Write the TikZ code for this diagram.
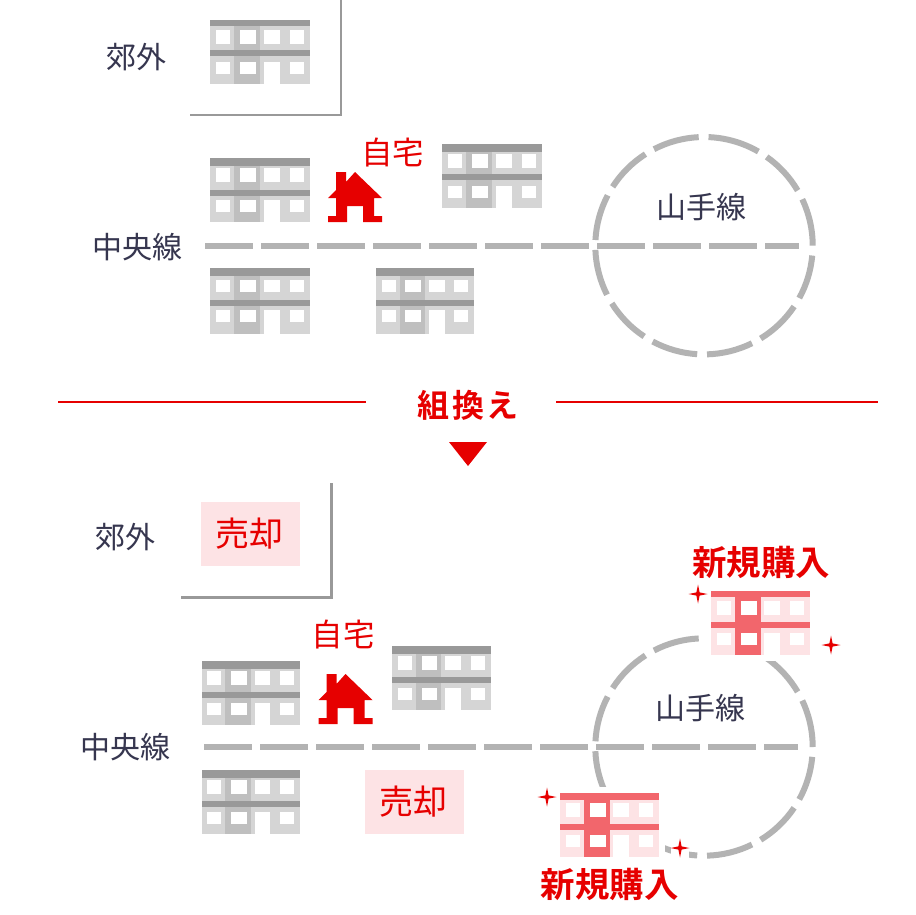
\documentclass[tikz,border=0pt]{standalone}
\usepackage{fontspec}
\setmainfont{Noto Sans CJK JP}
\newfontfamily\jpbold{Noto Sans CJK JP Bold}
\definecolor{ink}{HTML}{36364F}
\definecolor{redc}{HTML}{E60000}
\definecolor{track}{HTML}{B3B3B3}
\definecolor{wall}{HTML}{D5D5D5}
\definecolor{wallD}{HTML}{BFBFBF}
\definecolor{band}{HTML}{999999}
\definecolor{pinkL}{HTML}{FDE3E5}
\definecolor{pinkD}{HTML}{F2666C}
\tikzset{
  lab/.style={text=ink,inner sep=0pt,font=\fontsize{30}{30}\selectfont},
  redlab/.style={text=redc,inner sep=0pt,font=\fontsize{31.5}{32}\selectfont},
  buylab/.style={text=redc,inner sep=0pt,font=\jpbold\fontsize{34.5}{35}\selectfont},
  sellbox/.style={fill=pinkL,text=redc,inner sep=0pt,minimum width=99pt,minimum height=64pt,font=\fontsize{34}{34}\selectfont},
  trackline/.style={draw=track,line width=6pt,dash pattern=on 48pt off 8pt},
  ringarc/.style={draw=track,line width=6pt},
  wall line/.style={draw=band,line width=2.6pt,line join=miter},
  ruleline/.style={draw=redc,line width=1.6pt}
}
% \bldg{x}{y}{xscale}{band h}{window top}{mid band y}{total h}{light}{dark}{band}
\newcommand{\bldg}[9]{%
 \begin{scope}[shift={(#1,#2)},xscale=#3]
  \fill[#8] (0,0) rectangle (100,#7);
  \fill[#9] (24,0) rectangle (50,#7);
  \fill[white] (6,#5) rectangle (20,24);
  \fill[white] (30,#5) rectangle (46,24);
  \fill[white] (54,#5) rectangle (70,24);
  \fill[white] (80,#5) rectangle (94,24);
  \fill[white] (6,42) rectangle (20,54);
  \fill[white] (30,42) rectangle (46,54);
  \fill[white] (54,42) rectangle (70,#7);
  \fill[white] (80,42) rectangle (94,54);
  \fill[\bldgband] (0,0) rectangle (100,#4);
  \fill[\bldgband] (0,#6) rectangle (100,#6+6);
 \end{scope}}
\newcommand{\bldgband}{band}
\newcommand{\house}[2]{%
 \fill[redc,shift={(#1,#2)}] (8,0) -- (18,0) -- (18,10) -- (27,0) -- (54,26) -- (46,26) -- (46,44) -- (54,44) -- (54,50) -- (35,50) -- (35,34) -- (19,34) -- (19,50) -- (0,50) -- (0,44) -- (8,44) -- (8,26) -- (0,26) -- (8,18) -- cycle;}
\newcommand{\spark}[2]{%
 \fill[redc,shift={(#1,#2)}] (0,-9.5) -- (1.6,-1.6) -- (9.5,0) -- (1.6,1.6) -- (0,9.5) -- (-1.6,1.6) -- (-9.5,0) -- (-1.6,-1.6) -- cycle;}
\newcommand{\ring}[3]{%
 \foreach \s/\e in {0/25.3,30.5/54.8,60/87.6,92.8/117.4,122.6/147.2,152.4/177,182.2/206.8,212/236.6,241.8/266.4,271.6/296.2,301.4/326,331.2/354.8}
  \draw[ringarc] ({#1+#3*cos(-\s)},{#2+#3*sin(-\s)}) arc[start angle={-\s},end angle={-\e},radius=#3];}
\begin{document}
\begin{tikzpicture}[x=1pt,y=1pt,yscale=-1]
\useasboundingbox (0,0) rectangle (916,914);
\fill[white] (0,0) rectangle (916,914);
% upper half
\draw[wall line] (341,0) -- (341,115) -- (190,115);
\node[lab] (suburbA) at (136.5,57) {郊外};
\bldg{210}{20}{1}{6}{10}{30}{64}{wall}{wallD}{band}
\bldg{210}{158}{1}{8}{10}{32}{64}{wall}{wallD}{band}
\bldg{442}{144}{1}{8}{10}{30}{64}{wall}{wallD}{band}
\bldg{210}{268}{1}{8}{12}{32}{66}{wall}{wallD}{band}
\bldg{376}{268}{.98}{8}{12}{32}{66}{wall}{wallD}{band}
\house{328}{172}
\node[redlab] (homeA) at (392.5,153) {自宅};
\node[lab] (chuoA) at (137,247) {中央線};
\node[lab] (yamaA) at (701,207) {山手線};
\draw[trackline] (205,246) -- (799,246);
\ring{704}{245.7}{108.7}
% divider
\draw[ruleline] (58,402) -- (366,402);
\draw[ruleline] (556,402) -- (878,402);
\node[buylab,font=\jpbold\fontsize{32}{32}\selectfont] (swap) at (468,405) {組\kern2.5pt 換\kern2.5pt え};
\fill[redc] (449,442) -- (487,442) -- (468,466) -- cycle;
% lower half
\draw[wall line] (331.5,483) -- (331.5,597.5) -- (181,597.5);
\node[lab] (suburbB) at (125.5,537) {郊外};
\node[sellbox] (sellA) at (250.5,534) {\raisebox{-2pt}{売却}\kern2pt};
\node[sellbox] (sellB) at (414.5,802) {\raisebox{-2pt}{売却}\kern2pt};
\bldg{201.5}{661}{.985}{7.5}{10}{31}{64}{wall}{wallD}{band}
\bldg{392}{646}{.985}{7.5}{10}{31}{64}{wall}{wallD}{band}
\bldg{201.5}{770}{.985}{7.5}{10}{31}{64}{wall}{wallD}{band}
\house{318.5}{674}
\node[redlab] (homeB) at (343,635) {自宅};
\node[lab] (chuoB) at (125,747) {中央線};
\node[lab] (yamaB) at (700,708) {山手線};
\draw[trackline] (204,747) -- (798,747);
\ring{704}{747}{108.7}
\fill[white] (705,584) rectangle (816,661);
\fill[white] (554,787) rectangle (665,863);
\fill[white] (671,838) rectangle (689,858);
\renewcommand{\bldgband}{pinkD}
\bldg{711}{590.5}{.99}{6.5}{10}{31}{64.5}{pinkL}{pinkD}{pinkD}
\bldg{560}{793}{.99}{6.5}{10}{31}{64}{pinkL}{pinkD}{pinkD}
\spark{698}{594}
\spark{831}{645}
\spark{547}{797}
\spark{680}{848}
\node[buylab] (buyA) at (761,562) {新規購入};
\node[buylab] (buyB) at (609.5,884) {新規購入};
\end{tikzpicture}
\end{document}
